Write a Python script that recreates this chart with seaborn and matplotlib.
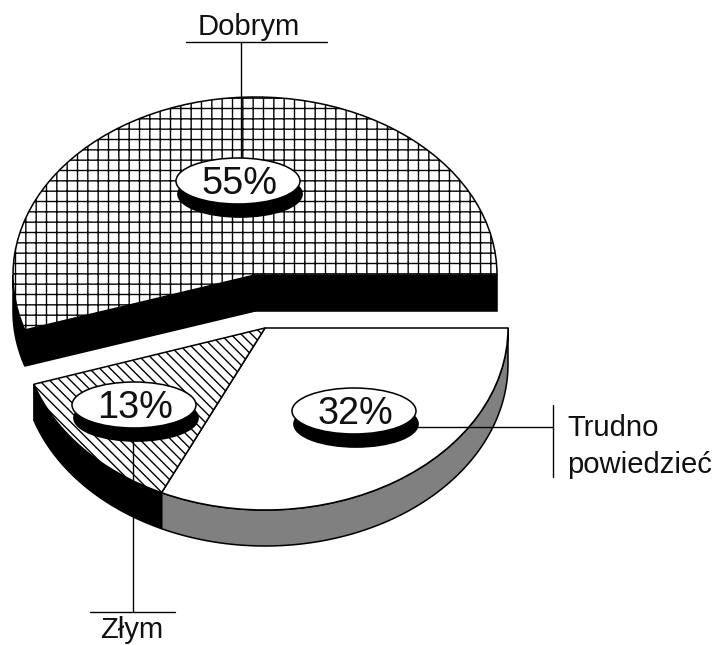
import numpy as np
import seaborn as sns
import matplotlib.pyplot as plt
from matplotlib.patches import Ellipse

# Survey answers, in percent
categories = ["Dobrym", "Trudno\npowiedzieć", "Złym"]
shares = [55, 32, 13]

# Pixel geometry of the drawing (reference is 717x645)
WIDTH, HEIGHT = 717, 645
DPI = 124  # makes the hatch pitch come out near 10 px
TOP_CENTER = (255, 275)
TOP_RADII = (242, 178)
LOW_CENTER = (265, 328)
LOW_RADII = (243, 182)
DEPTH = 36


def pie_axes(fig, center, radii):
    """Full-figure axes where the pie of radius 1 lands on the wanted ellipse."""
    ax = fig.add_axes([0, 0, 1, 1], facecolor="none")
    return ax, (center, radii)


def fit_axes(ax, center, radii):
    ax.set_aspect("auto")
    ax.set_xlim(-center[0] / radii[0], (WIDTH - center[0]) / radii[0])
    ax.set_ylim((center[1] - HEIGHT) / radii[1], center[1] / radii[1])
    ax.axis("off")


def arc(start, stop, drop=0.0):
    angles = np.radians(np.linspace(start, stop, 120))
    return np.cos(angles), np.sin(angles) - drop


def draw_wall(ax, radii, start, stop, color):
    """Outer side of a slice, between its angles."""
    drop = DEPTH / radii[1]
    x0, y0 = arc(start, stop)
    x1, y1 = arc(start, stop, drop)
    ax.fill(np.r_[x0, x1[::-1]], np.r_[y0, y1[::-1]], facecolor=color,
            edgecolor="black", linewidth=0.9, zorder=0.5)


def draw_cut(ax, radii, angle):
    """Flat cut face running from the centre to the rim."""
    drop = DEPTH / radii[1]
    rim_x, rim_y = np.cos(np.radians(angle)), np.sin(np.radians(angle))
    ax.fill([0, rim_x, rim_x, 0], [0, rim_y, rim_y - drop, -drop],
            facecolor="black", edgecolor="black", linewidth=0.9, zorder=0.5)


def draw_badge(ax, x, y, text):
    ax.add_patch(Ellipse((x + 2, y + 13), 124, 46, facecolor="black", edgecolor="black", zorder=3))
    ax.add_patch(Ellipse((x, y), 124, 46, facecolor="white", edgecolor="black", linewidth=0.9, zorder=4))
    ax.text(x + 1, y + 3, text, ha="center", va="center", fontsize=22, color="#111111", zorder=5)


def main():
    sns.set_theme(style="white")
    plt.rcParams["font.family"] = ["Liberation Sans", "DejaVu Sans"]
    plt.rcParams["hatch.linewidth"] = 0.8

    fig = plt.figure(figsize=(WIDTH / DPI, HEIGHT / DPI), dpi=DPI)

    good, hard, bad = shares
    edge = {"edgecolor": "black", "linewidth": 0.9}
    top_end = good * 3.6
    hard_end = -hard * 3.6
    bad_end = hard_end - bad * 3.6

    # Lower pair of slices
    low_ax = fig.add_axes([0, 0, 1, 1], facecolor="none")
    draw_wall(low_ax, LOW_RADII, hard_end, 0, "#808080")
    draw_wall(low_ax, LOW_RADII, bad_end, hard_end, "black")
    low, _ = low_ax.pie([hard / 100, bad / 100], normalize=False, startangle=0,
                        counterclock=False, colors=["white", "white"], wedgeprops=edge)
    low[1].set_hatch("\\\\\\\\")
    fit_axes(low_ax, LOW_CENTER, LOW_RADII)

    # Upper slice, pulled away from the others
    top_ax = fig.add_axes([0, 0, 1, 1], facecolor="none")
    draw_wall(top_ax, TOP_RADII, 180, top_end, "black")
    draw_cut(top_ax, TOP_RADII, 0)
    draw_cut(top_ax, TOP_RADII, top_end)
    top, _ = top_ax.pie([good / 100], normalize=False, startangle=0,
                        colors=["white"], wedgeprops=edge)
    top[0].set_hatch("++")
    fit_axes(top_ax, TOP_CENTER, TOP_RADII)

    # Labels and leader lines live on an overlay in pixel units
    over = fig.add_axes([0, 0, 1, 1], facecolor="none")
    over.set_xlim(0, WIDTH)
    over.set_ylim(HEIGHT, 0)
    over.axis("off")

    line = {"color": "black", "linewidth": 0.8, "zorder": 2}
    over.plot([241, 241], [42, 160], **line)
    over.plot([186, 327], [42, 42], **line)
    over.plot([415, 553], [427, 427], **line)
    over.plot([553, 553], [405, 477], **line)
    over.plot([133, 133], [435, 612], **line)
    over.plot([90, 175], [612, 612], **line)

    draw_badge(over, 238, 181, f"{good}%")
    draw_badge(over, 354, 411, f"{hard}%")
    draw_badge(over, 134, 405, f"{bad}%")

    label = {"fontsize": 17, "color": "#111111"}
    over.text(249, 35, categories[0], ha="center", va="baseline", **label)
    over.text(567, 436, categories[1].split("\n")[0], ha="left", va="baseline", **label)
    over.text(567, 473, categories[1].split("\n")[1], ha="left", va="baseline", **label)
    over.text(132, 638, categories[2], ha="center", va="baseline", **label)

    fig.savefig("out.png", dpi=DPI, facecolor="white")


if __name__ == "__main__":
    main()
